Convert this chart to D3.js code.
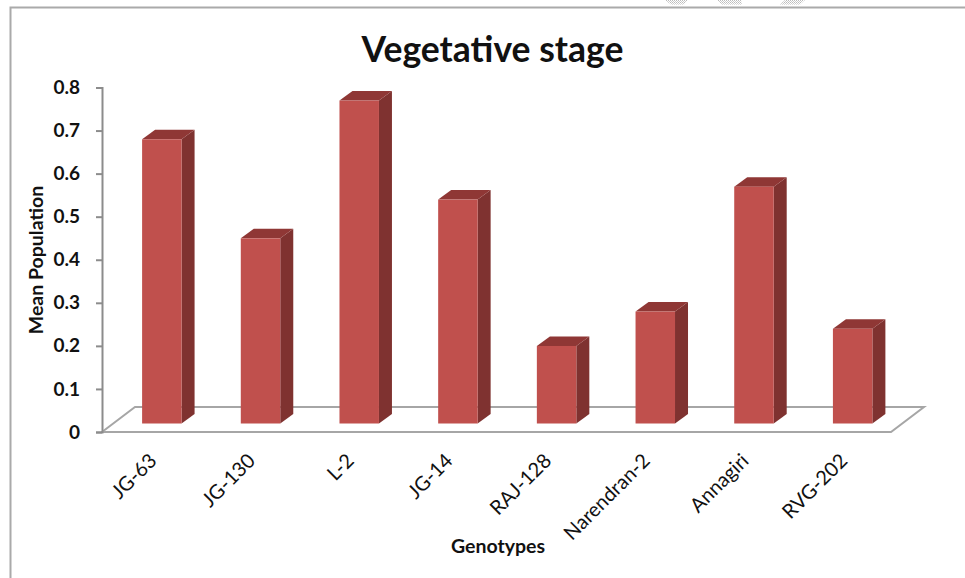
<!DOCTYPE html>
<html>
<head>
<script src="https://d3js.org/d3.v7.min.js"></script>
<style>
body { margin: 0; background: #fff; }
svg { display: block; }
text { font-family: Lato, "Open Sans", sans-serif; fill: #111; }
.tick text { font-size: 19px; font-weight: 700; }
.title { font-size: 35.5px; font-weight: 700; }
.axtitle { font-size: 19.5px; font-weight: 700; }
</style>
</head>
<body>
<svg id="chart" width="965" height="578"></svg>
<script>
var genotypes = ["JG-63","JG-130","L-2","JG-14","RAJ-128","Narendran-2","Annagiri","RVG-202"];
var meanPop = [0.66,0.43,0.75,0.52,0.18,0.26,0.55,0.22];
var yTicks = [0,0.1,0.2,0.3,0.4,0.5,0.6,0.7,0.8];

var svg = d3.select("#chart");

// hatch for the watermark scraps at the top edge
var hatch = svg.append("defs").append("pattern").attr("id","hatch")
    .attr("width",2).attr("height",2).attr("patternUnits","userSpaceOnUse");
hatch.append("rect").attr("width",1).attr("height",1).attr("fill","#bbb");
hatch.append("rect").attr("x",1).attr("y",1).attr("width",1).attr("height",1).attr("fill","#ccc");

svg.append("path").attr("fill","url(#hatch)")
    .attr("d","M665,0H688L684,4.5H671Z M717,0H741L742,4.5H722Z M785,0H805L800,4.5H780Z");

// page frame
svg.append("path").attr("d","M10.5,578V7.5H965").attr("fill","none").attr("stroke","#aaa").attr("stroke-width",2);

var axisX = 102, floorRight = 891;
var y = d3.scaleLinear().domain([0,0.8]).range([432,87.5]);
var x = d3.scaleBand().domain(genotypes).range([112.5,902]).paddingInner(0.6).paddingOuter(0.3);

// bars sit part way back on the floor
var depth = 13, rise = 9.5, barLift = 8.5, floorDx = 33, floorDy = 25;

// floor
svg.append("path")
    .attr("d","M"+axisX+","+y(0)+"L"+(axisX+floorDx)+","+(y(0)-floorDy)+"H"+(floorRight+floorDx)+"L"+floorRight+","+y(0)+"Z")
    .attr("fill","#fff").attr("stroke","#a6a6a6").attr("stroke-width",2);

// y axis
var yAxis = d3.axisLeft(y).tickValues(yTicks).tickFormat(function(d){ return d; }).tickSize(6).tickPadding(16);
var gy = svg.append("g").attr("transform","translate("+axisX+",0)").call(yAxis);
gy.selectAll("path,line").attr("stroke","#8c8c8c").attr("stroke-width",2);

// x tick labels
var xAxis = d3.axisBottom(x).tickSize(0);
var gx = svg.append("g").attr("transform","translate(0,"+y(0)+")").call(xAxis);
gx.select("path").remove();
gx.selectAll("text").style("font-size","20px").style("font-weight",400)
    .attr("text-anchor","end").attr("dy",0).attr("y",0)
    .attr("transform","translate(-4,30) rotate(-45)");

// bars
var bars = svg.append("g").selectAll("g").data(meanPop).enter().append("g");
function bx(i){ return x(genotypes[i]); }
function front(v){ return y(v) - barLift; }
var base = y(0) - barLift;

bars.append("path").attr("fill","#7f3230")
    .attr("d",function(d,i){ var r = bx(i)+x.bandwidth();
        return "M"+r+","+front(d)+"l"+depth+","+(-rise)+"V"+(base-rise)+"l"+(-depth)+","+rise+"Z"; });
bars.append("path").attr("fill","#8f3735")
    .attr("d",function(d,i){ var l = bx(i), w = x.bandwidth();
        return "M"+l+","+front(d)+"l"+depth+","+(-rise)+"h"+w+"l"+(-depth)+","+rise+"Z"; });
bars.append("rect").attr("fill","#c0504d")
    .attr("x",function(d,i){ return bx(i); })
    .attr("width",x.bandwidth())
    .attr("y",function(d){ return front(d); })
    .attr("height",function(d){ return base-front(d); });

svg.append("text").attr("class","title").attr("x",492.5).attr("y",62).attr("text-anchor","middle").text("Vegetative stage");
svg.append("text").attr("class","axtitle").attr("x",498).attr("y",553).attr("text-anchor","middle").text("Genotypes");
svg.append("text").attr("class","axtitle").attr("transform","translate(43,260) rotate(-90)").attr("text-anchor","middle").text("Mean Population");
</script>
</body>
</html>
